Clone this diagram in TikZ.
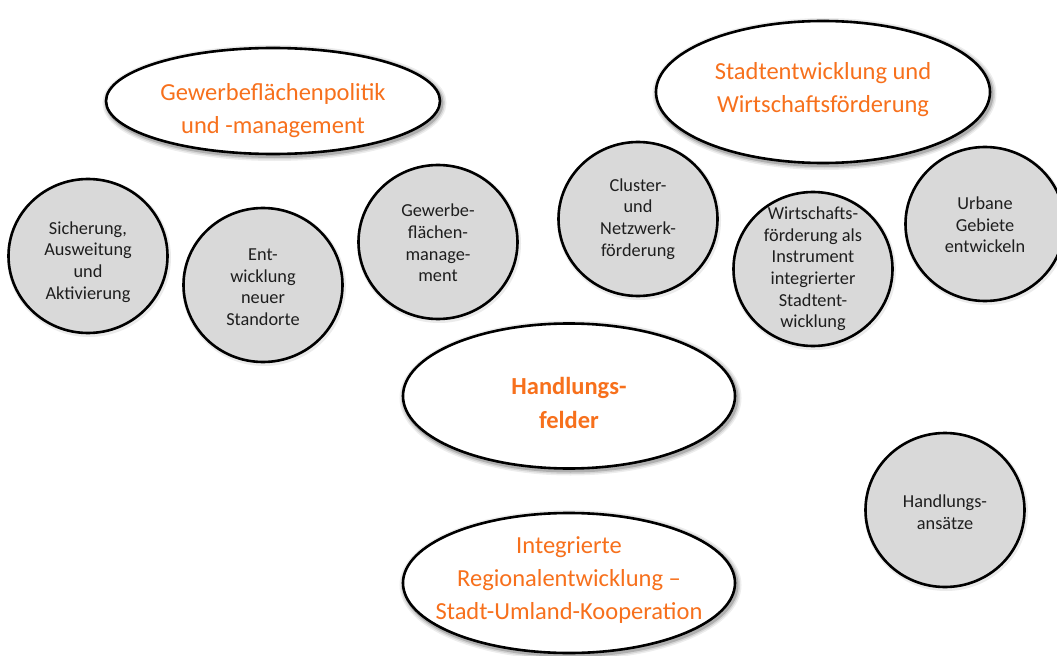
\documentclass[tikz,border=0pt]{standalone}
\usepackage{fontspec}
\setmainfont{Carlito}
\usetikzlibrary{shapes.geometric}
\definecolor{orng}{RGB}{247,112,28}
\definecolor{cfill}{RGB}{217,217,217}
\definecolor{ctext}{RGB}{30,30,30}
\begin{document}
\begin{tikzpicture}[x=1bp,y=-1bp,
 glow/.style={
   preaction={draw=black, line width=10bp, opacity=0.07, transform canvas={shift={(1.5bp,-2bp)}}},
   preaction={draw=black, line width=7bp, opacity=0.10, transform canvas={shift={(1.5bp,-2bp)}}},
   preaction={draw=black, line width=4bp, opacity=0.18, transform canvas={shift={(1.5bp,-2bp)}}}},
 softglow/.style={
   preaction={draw=black, line width=5bp, opacity=0.08, transform canvas={shift={(1bp,-1.5bp)}}}},
 bigell/.style={ellipse, draw=black, line width=2.6bp, fill=white, inner sep=0pt, glow},
 circ/.style={ellipse, draw=black, line width=2.6bp, fill=cfill, minimum width=159bp, minimum height=154bp, inner sep=0pt, softglow},
 otext/.style={align=center, text=orng, font=\fontsize{24.5bp}{33bp}\selectfont, inner sep=0pt},
 ctxt/.style={align=center, text=ctext, font=\fontsize{18.3bp}{21.6bp}\selectfont, inner sep=0pt}
]
\useasboundingbox (0,0) rectangle (1057,656);

% big ellipses
\node[bigell, minimum width=334bp, minimum height=106bp] (e1) at (273,101) {};
\node[bigell, minimum width=334bp, minimum height=142bp] (e2) at (823,92) {};
\node[bigell, minimum width=332bp, minimum height=145bp] (e3) at (569,396) {};
\node[bigell, minimum width=332bp, minimum height=140bp] (e4) at (569,583) {};

\node[otext] (t1) at (273,111) {Gewerbeflächenpolitik\\und -management};
\node[otext] (t2) at (823,90) {Stadtentwicklung und\\Wirtschaftsförderung};
\node[otext, font=\bfseries\fontsize{24.5bp}{34bp}\selectfont] (t3) at (569,403) {Handlungs-\\felder};
\node[otext] (t4) at (569,580) {Integrierte\\Regionalentwicklung –\\Stadt-Umland-Kooperation};

% circles
\node[circ] (c1) at (88,256) {};
\node[circ] (c2) at (263,285) {};
\node[circ] (c3) at (438,242) {};
\node[circ] (c4) at (638,219) {};
\node[circ] (c5) at (813,269) {};
\node[circ] (c6) at (985,224) {};
\node[circ] (c7) at (945,510) {};

\node[ctxt] (s1) at (88,262) {Sicherung,\\Ausweitung\\und\\Aktivierung};
\node[ctxt] (s2) at (263,287) {Ent-\\wicklung\\neuer\\Standorte};
\node[ctxt] (s3) at (438,243) {Gewerbe-\\flächen-\\manage-\\ment};
\node[ctxt] (s4) at (638,219) {Cluster-\\und\\Netzwerk-\\förderung};
\node[ctxt] (s5) at (813,269) {Wirtschafts-\\förderung als\\Instrument\\integrierter\\Stadtent-\\wicklung};
\node[ctxt] (s6) at (985,225) {Urbane\\Gebiete\\entwickeln};
\node[ctxt] (s7) at (945,512) {Handlungs-\\ansätze};
\end{tikzpicture}
\end{document}
